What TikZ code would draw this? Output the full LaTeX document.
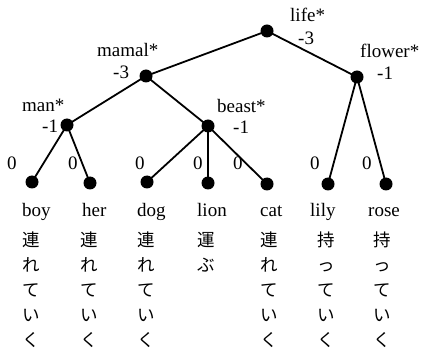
\documentclass[tikz,border=0pt]{standalone}
\usepackage{fontspec}
\setmainfont{Liberation Serif}
\newfontfamily\cjk{Noto Sans CJK JP}
\begin{document}
\begin{tikzpicture}[x=1pt,y=-1pt,
  dot/.style={circle,fill=black,inner sep=0pt,minimum size=13pt},
  edge/.style={line width=1.8pt},
  lab/.style={anchor=base west,inner sep=0pt,font=\fontsize{19}{19}\selectfont},
  jcol/.style={anchor=north west,inner sep=0pt,align=left,font=\cjk\fontsize{17.5}{25}\selectfont}]
\useasboundingbox (0,0) rectangle (422,355);
% tree nodes
\node[dot] (life) at (267,31) {};
\node[dot] (mamal) at (146,76) {};
\node[dot] (flower) at (357,77) {};
\node[dot] (man) at (67,125) {};
\node[dot] (beast) at (208,126) {};
\node[dot] (boy) at (32,182) {};
\node[dot] (her) at (90,183) {};
\node[dot] (dog) at (147,182) {};
\node[dot] (lion) at (208,183) {};
\node[dot] (cat) at (267,184) {};
\node[dot] (lily) at (328,184) {};
\node[dot] (rose) at (386,184) {};
% edges
\draw[edge] (life.center) -- (mamal.center);
\draw[edge] (life.center) -- (flower.center);
\draw[edge] (mamal.center) -- (man.center);
\draw[edge] (mamal.center) -- (beast.center);
\draw[edge] (man.center) -- (boy.center);
\draw[edge] (man.center) -- (her.center);
\draw[edge] (beast.center) -- (dog.center);
\draw[edge] (beast.center) -- (lion.center);
\draw[edge] (beast.center) -- (cat.center);
\draw[edge] (flower.center) -- (lily.center);
\draw[edge] (flower.center) -- (rose.center);
% labels
\node[lab] (lifeL) at (290,22) {life*};
\node[lab] (lifeV) at (298,45) {-3};
\node[lab] (mamalL) at (97,57) {mamal*};
\node[lab] (mamalV) at (113,79) {-3};
\node[lab] (flowerL) at (360,58) {flower*};
\node[lab] (flowerV) at (377,80) {-1};
\node[lab] (manL) at (22,112) {man*};
\node[lab] (manV) at (42,133) {-1};
\node[lab] (beastL) at (217,113) {beast*};
\node[lab] (beastV) at (233,134) {-1};
\node[lab] (z1) at (7,170) {0};
\node[lab] (z2) at (68,170) {0};
\node[lab] (z3) at (135,170) {0};
\node[lab] (z4) at (193,170) {0};
\node[lab] (z5) at (233,170) {0};
\node[lab] (z6) at (310,170) {0};
\node[lab] (z7) at (362,170) {0};
% words
\node[lab] (w1) at (22,216) {boy};
\node[lab] (w2) at (82,216) {her};
\node[lab] (w3) at (137,216) {dog};
\node[lab] (w4) at (197,216) {lion};
\node[lab] (w5) at (260,216) {cat};
\node[lab] (w6) at (310,216) {lily};
\node[lab] (w7) at (368,216) {rose};
% japanese columns
\node[jcol] (j1) at (22,232) {連\\れ\\て\\い\\く};
\node[jcol] (j2) at (80,232) {連\\れ\\て\\い\\く};
\node[jcol] (j3) at (137,232) {連\\れ\\て\\い\\く};
\node[jcol] (j4) at (197,232) {運\\ぶ};
\node[jcol] (j5) at (260,232) {連\\れ\\て\\い\\く};
\node[jcol] (j6) at (317,232) {持\\っ\\て\\い\\く};
\node[jcol] (j7) at (373,232) {持\\っ\\て\\い\\く};
\end{tikzpicture}
\end{document}
